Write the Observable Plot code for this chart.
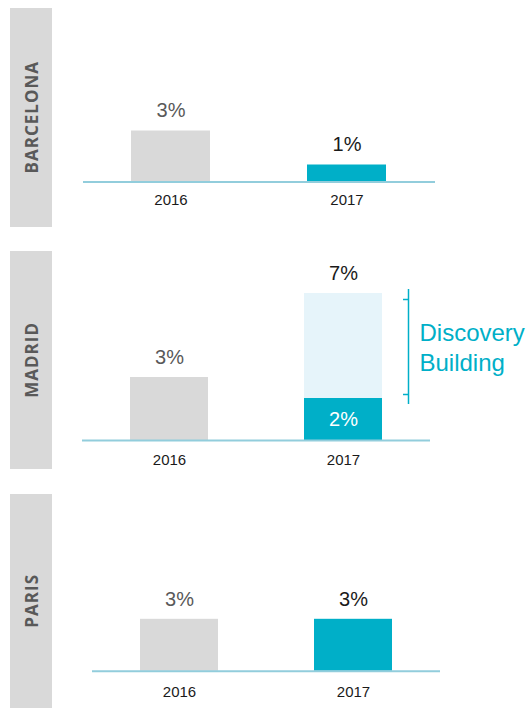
<!DOCTYPE html>
<html>
<head>
<meta charset="utf-8">
<script src="https://cdn.jsdelivr.net/npm/d3@7"></script>
<script src="https://cdn.jsdelivr.net/npm/@observablehq/plot@0.6"></script>
<style>
  html, body { margin: 0; padding: 0; background: #fff; }
  #root { position: relative; width: 532px; height: 708px; overflow: hidden; }
  .panel { position: absolute; left: 0; width: 532px; height: 236px; }
  .band { position: absolute; left: 10px; width: 42px; background: #d9d9d9;
          display: flex; align-items: center; justify-content: center; }
  .band span { writing-mode: vertical-rl; transform: rotate(180deg);
               font-family: "Open Sans", sans-serif; font-weight: 700; font-size: 17px;
               letter-spacing: 1px; color: #595959; }
  .panel svg { position: absolute; left: 0; top: 0; }
</style>
</head>
<body>
<div id="root"></div>
<script>
// ---- data ----
const cities = ["BARCELONA", "MADRID", "PARIS"];
const years = ["2016", "2017"];
const share2016 = [3, 3, 3];
const share2017 = [1, 2, 3];
const shareDiscovery2017 = [0, 5, 0];          // added by Discovery Building (Madrid total 7%)
const labels2016 = ["3%", "3%", "3%"];
const labels2017 = ["1%", "7%", "3%"];
const innerLabels2017 = [null, "2%", null];
const annotationText = "Discovery\nBuilding";

// ---- layout / style (not data) ----
const layout = [
  {top: 0,   bandTop: 8,   bandH: 219, baseline: 181.5, pxPer: 17,   mL: 83, mR: 97,  pad: 12.5},
  {top: 236, bandTop: 251, bandH: 218, baseline: 204,   pxPer: 21,   mL: 82, mR: 102, pad: 13.5},
  {top: 472, bandTop: 494, bandH: 214, baseline: 198.7, pxPer: 17.3, mL: 92, mR: 92,  pad: 15}
];
const CYAN = "#00afc8", GREY = "#d9d9d9", LIGHT = "#e6f4fa", BASE = "#92cddc";
const font = "'Liberation Sans', Arial, sans-serif";

const root = document.getElementById("root");

cities.forEach((city, i) => {
  const L = layout[i];
  const rows = [
    {year: years[0], value: share2016[i], total: share2016[i], label: labels2016[i]},
    {year: years[1], value: share2017[i], total: share2017[i] + shareDiscovery2017[i], label: labels2017[i],
     inner: innerLabels2017[i], extra: shareDiscovery2017[i]}
  ];
  const disc = rows.filter(d => d.extra > 0);
  const H = 236, ymax = 8;
  const marginBottom = H - L.baseline;
  const marginTop = H - marginBottom - ymax * L.pxPer;

  const chart = Plot.plot({
    width: 532, height: H,
    marginLeft: L.mL, marginRight: L.mR, marginTop, marginBottom,
    style: {fontFamily: font, color: "#1a1a1a", background: "transparent", overflow: "visible"},
    x: {domain: years, paddingInner: 0.55, paddingOuter: 0.275, axis: null},
    y: {domain: [0, ymax], axis: null},
    color: {domain: years, range: [GREY, CYAN]},
    marks: [
      Plot.barY(disc, {x: "year", y1: "value", y2: "total", fill: LIGHT}),
      Plot.barY(rows, {x: "year", y: "value", fill: "year"}),
      Plot.ruleY([0], {stroke: BASE, strokeWidth: 2}),
      Plot.text(rows.filter(d => d.year === years[0]), {x: "year", y: "total", text: "label", dy: -20, fontSize: 20, fill: "#595959"}),
      Plot.text(rows.filter(d => d.year === years[1]), {x: "year", y: "total", text: "label", dy: -20, fontSize: 20, fill: "#1a1a1a"}),
      Plot.text(rows.filter(d => d.inner), {x: "year", y: d => d.value / 2, text: "inner", fontSize: 20, fill: "#ffffff"}),
      Plot.ruleX(disc, {x: "year", y1: "value", y2: "total", dx: 65, insetTop: 6, insetBottom: 4, stroke: CYAN, strokeWidth: 1.5}),
      Plot.tickY(disc, {x: "year", y: "total", dx: 59, dy: 6, insetLeft: 40, insetRight: 33, stroke: CYAN, strokeWidth: 1.5}),
      Plot.tickY(disc, {x: "year", y: "value", dx: 59, dy: -4, insetLeft: 40, insetRight: 33, stroke: CYAN, strokeWidth: 1.5}),
      Plot.text(disc, {x: "year", y: d => (d.value + d.total) / 2, text: () => annotationText, textAnchor: "start",
                       dx: 76, dy: 0, fontSize: 24, lineHeight: 1.25, fill: CYAN}),
      Plot.axisX({tickSize: 0, tickPadding: L.pad, fontSize: 15, label: null, fill: "#1a1a1a"})
    ]
  });

  const panel = document.createElement("div");
  panel.className = "panel";
  panel.style.top = L.top + "px";
  const band = document.createElement("div");
  band.className = "band";
  band.style.top = (L.bandTop - L.top) + "px";
  band.style.height = L.bandH + "px";
  const span = document.createElement("span");
  span.textContent = city;
  band.appendChild(span);
  panel.appendChild(chart);
  panel.appendChild(band);
  root.appendChild(panel);
});
</script>
</body>
</html>
